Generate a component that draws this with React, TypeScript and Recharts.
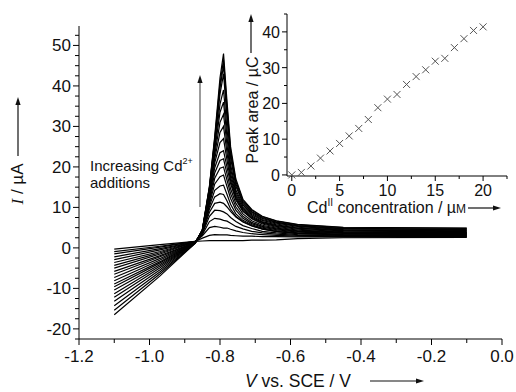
import { LineChart, Line, XAxis, YAxis, ScatterChart, Scatter } from "recharts";

// Cd2+ cyclic voltammograms (main) + peak area calibration (inset)

const VOLTAGES = [-1.1, -0.97, -0.87, -0.85, -0.83, -0.815, -0.8, -0.79, -0.78, -0.77, -0.755, -0.735, -0.71, -0.68, -0.64, -0.58, -0.45, -0.1];

// current (uA) at each voltage, one array per Cd addition
const CURRENT_00 = [-0.3, 0.8, 1.6, 1.7, 1.8, 1.8, 1.8, 1.8, 1.8, 1.8, 1.8, 1.8, 1.9, 1.9, 2.0, 2.3, 2.5, 2.6];
const CURRENT_01 = [-0.9, 0.4, 1.6, 2.4, 3.1, 3.3, 3.2, 3.2, 3.2, 3.1, 3.0, 2.9, 2.9, 2.8, 2.8, 2.7, 2.7, 2.7];
const CURRENT_02 = [-1.5, 0.2, 1.6, 3.0, 5.0, 5.3, 5.1, 4.9, 4.9, 4.6, 4.2, 3.8, 3.5, 3.3, 3.1, 2.9, 2.8, 2.8];
const CURRENT_03 = [-2.2, -0.2, 1.5, 3.3, 6.5, 7.3, 7.1, 6.8, 6.6, 6.1, 5.3, 4.7, 4.1, 3.7, 3.4, 3.1, 3.0, 2.9];
const CURRENT_04 = [-2.9, -0.5, 1.5, 3.5, 7.8, 9.3, 9.2, 8.9, 8.4, 7.5, 6.5, 5.5, 4.8, 4.1, 3.7, 3.3, 3.1, 3.0];
const CURRENT_05 = [-3.6, -0.9, 1.5, 3.7, 8.8, 11.0, 11.3, 11.0, 10.1, 9.0, 7.6, 6.4, 5.4, 4.6, 4.0, 3.5, 3.2, 3.1];
const CURRENT_06 = [-4.3, -1.2, 1.5, 3.8, 9.6, 12.6, 13.4, 13.2, 11.6, 9.6, 7.8, 6.5, 5.5, 4.7, 4.1, 3.6, 3.3, 3.2];
const CURRENT_07 = [-5.0, -1.5, 1.5, 3.9, 10.2, 14.2, 15.3, 15.5, 13.2, 10.8, 8.4, 6.8, 5.7, 4.9, 4.3, 3.7, 3.4, 3.3];
const CURRENT_08 = [-5.8, -1.9, 1.4, 4.0, 10.8, 15.8, 17.6, 18.0, 15.1, 12.2, 9.3, 7.3, 6.0, 5.1, 4.5, 3.9, 3.6, 3.4];
const CURRENT_09 = [-6.5, -2.2, 1.4, 4.0, 11.3, 17.2, 19.7, 20.0, 16.7, 13.4, 10.1, 7.8, 6.3, 5.3, 4.7, 4.1, 3.7, 3.5];
const CURRENT_10 = [-7.3, -2.6, 1.4, 4.1, 11.8, 18.5, 21.6, 22.0, 18.3, 14.6, 11.0, 8.4, 6.7, 5.6, 4.9, 4.2, 3.8, 3.6];
const CURRENT_11 = [-8.1, -3.0, 1.4, 4.1, 12.3, 19.8, 23.5, 24.0, 19.9, 15.9, 11.8, 9.0, 7.2, 5.9, 5.1, 4.4, 3.9, 3.7];
const CURRENT_12 = [-8.9, -3.4, 1.4, 4.2, 12.8, 21.0, 26.0, 27.0, 21.6, 16.6, 12.2, 9.2, 7.4, 6.1, 5.3, 4.6, 4.0, 3.8];
const CURRENT_13 = [-9.6, -3.7, 1.3, 4.2, 13.2, 22.0, 28.5, 30.0, 23.4, 17.4, 12.6, 9.5, 7.6, 6.3, 5.5, 4.8, 4.2, 3.9];
const CURRENT_14 = [-10.4, -4.1, 1.3, 4.3, 13.6, 23.0, 31.0, 33.0, 25.3, 18.4, 13.1, 9.8, 7.9, 6.5, 5.7, 4.9, 4.3, 4.0];
const CURRENT_15 = [-11.3, -4.5, 1.3, 4.3, 14.0, 24.0, 33.5, 36.0, 27.3, 19.5, 13.7, 10.2, 8.2, 6.8, 5.9, 5.1, 4.4, 4.2];
const CURRENT_16 = [-12.2, -4.9, 1.3, 4.4, 14.3, 25.0, 35.5, 39.0, 29.3, 20.6, 14.3, 10.6, 8.5, 7.0, 6.1, 5.3, 4.5, 4.3];
const CURRENT_17 = [-13.2, -5.4, 1.3, 4.4, 14.6, 25.8, 38.0, 43.0, 32.0, 22.2, 15.2, 11.0, 8.8, 7.3, 6.3, 5.4, 4.7, 4.5];
const CURRENT_18 = [-14.3, -5.9, 1.2, 4.5, 14.8, 26.5, 39.5, 45.0, 33.5, 23.2, 15.8, 11.3, 9.0, 7.5, 6.4, 5.5, 4.8, 4.6];
const CURRENT_19 = [-15.4, -6.4, 1.2, 4.5, 15.0, 27.0, 40.5, 46.5, 34.8, 24.1, 16.4, 11.7, 9.3, 7.7, 6.6, 5.7, 5.0, 4.8];
const CURRENT_20 = [-16.5, -6.9, 1.2, 4.5, 15.2, 27.5, 42.0, 48.0, 36.0, 25.0, 17.0, 12.0, 9.5, 7.8, 6.7, 5.8, 5.1, 4.9];

const CURVES = [
  CURRENT_00, CURRENT_01, CURRENT_02, CURRENT_03, CURRENT_04, CURRENT_05, CURRENT_06,
  CURRENT_07, CURRENT_08, CURRENT_09, CURRENT_10, CURRENT_11, CURRENT_12, CURRENT_13,
  CURRENT_14, CURRENT_15, CURRENT_16, CURRENT_17, CURRENT_18, CURRENT_19, CURRENT_20,
];

// inset: peak area vs Cd(II) concentration
const CONCENTRATIONS = [0, 1, 2, 3, 4, 5, 6, 7, 8, 9, 10, 11, 12, 13, 14, 15, 16, 17, 18, 19, 20];
const PEAK_AREAS = [0, 0.7, 2.5, 4.7, 6.7, 8.8, 10.9, 13.0, 15.5, 18.8, 21.2, 22.5, 25.3, 27.5, 29.4, 31.8, 32.6, 35.6, 38.1, 40.4, 41.4];

const MAIN_X_TICKS = [-1.2, -1.1, -1.0, -0.9, -0.8, -0.7, -0.6, -0.5, -0.4, -0.3, -0.2, -0.1, 0];
const MAIN_Y_TICKS = [-22.5, -20, -17.5, -15, -12.5, -10, -7.5, -5, -2.5, 0, 2.5, 5, 7.5, 10, 12.5, 15, 17.5, 20, 22.5, 25, 27.5, 30, 32.5, 35, 37.5, 40, 42.5, 45, 47.5, 50, 52.5];
const INSET_X_TICKS = [0, 2.5, 5, 7.5, 10, 12.5, 15, 17.5, 20, 22.5];
const INSET_Y_TICKS = [0, 5, 10, 15, 20, 25, 30, 35, 40, 45];

const FONT = '"Liberation Sans", Arial, sans-serif';
const INK = "#111";

const MAIN_LEFT = 79;
const MAIN_BOTTOM = 339;
const INSET_LEFT = 287;
const INSET_BOTTOM = 176;

const cvRows = VOLTAGES.map((v, k) => {
  const row: Record<string, number> = { v };
  CURVES.forEach((c, i) => { row["c" + i] = c[k]; });
  return row;
});

const insetRows = CONCENTRATIONS.map((x, i) => ({ x, y: PEAK_AREAS[i] }));

function MainXTick({ x, payload }: any) {
  const v = payload.value;
  const major = Math.round(v * 10) % 2 === 0;
  return (
    <g>
      <line x1={x} x2={x} y1={MAIN_BOTTOM} y2={MAIN_BOTTOM + (major ? 6 : 4)} stroke="#000" />
      {major && (
        <text x={x} y={MAIN_BOTTOM + 23} textAnchor="middle" fontSize={17} fontFamily={FONT} fill={INK}>
          {v.toFixed(1)}
        </text>
      )}
    </g>
  );
}

function MainYTick({ y, payload }: any) {
  const v = payload.value;
  const major = Math.abs(v % 10) < 1e-6;
  return (
    <g>
      <line x1={MAIN_LEFT - (major ? 6 : 4)} x2={MAIN_LEFT} y1={y} y2={y} stroke="#000" />
      {major && (
        <text x={MAIN_LEFT - 8} y={y + 6} textAnchor="end" fontSize={17} fontFamily={FONT} fill={INK}>
          {v}
        </text>
      )}
    </g>
  );
}

function InsetXTick({ x, payload }: any) {
  const v = payload.value;
  const major = v % 5 === 0;
  return (
    <g>
      <line x1={x} x2={x} y1={INSET_BOTTOM} y2={INSET_BOTTOM + (major ? 5 : 3)} stroke="#000" />
      {major && (
        <text x={x} y={INSET_BOTTOM + 20} textAnchor="middle" fontSize={16} fontFamily={FONT} fill={INK}>
          {v}
        </text>
      )}
    </g>
  );
}

function InsetYTick({ y, payload }: any) {
  const v = payload.value;
  const major = v % 10 === 0;
  return (
    <g>
      <line x1={INSET_LEFT - (major ? 5 : 3)} x2={INSET_LEFT} y1={y} y2={y} stroke="#000" />
      {major && (
        <text x={INSET_LEFT - 7} y={y + 6} textAnchor="end" fontSize={16} fontFamily={FONT} fill={INK}>
          {v}
        </text>
      )}
    </g>
  );
}

function Cross({ cx, cy }: any) {
  const s = 3.5;
  return (
    <path
      d={`M${cx - s},${cy - s}L${cx + s},${cy + s}M${cx - s},${cy + s}L${cx + s},${cy - s}`}
      stroke="#555"
      strokeWidth={1}
    />
  );
}

function Arrow({ x1, y1, x2, y2, color = INK, width = 1.2 }: any) {
  // straight line with filled head at (x2, y2)
  const ang = Math.atan2(y2 - y1, x2 - x1);
  const len = 8, half = 2.6;
  const bx = x2 - len * Math.cos(ang), by = y2 - len * Math.sin(ang);
  const px = -Math.sin(ang) * half, py = Math.cos(ang) * half;
  return (
    <g>
      <line x1={x1} y1={y1} x2={bx} y2={by} stroke={color} strokeWidth={width} />
      <polygon points={`${x2},${y2} ${bx + px},${by + py} ${bx - px},${by - py}`} fill={INK} />
    </g>
  );
}

export default function App() {
  return (
    <div style={{ position: "absolute", left: 0, top: 0, width: 516, height: 392, background: "#fff", overflow: "hidden" }}>
      <div style={{ position: "absolute", left: 0, top: 0 }}>
        <LineChart width={516} height={392} data={cvRows} margin={{ top: 26, right: 14, bottom: 23, left: 34 }}>
          <XAxis
            type="number"
            dataKey="v"
            domain={[-1.2, 0]}
            ticks={MAIN_X_TICKS}
            interval={0}
            tick={MainXTick}
            tickLine={false}
            axisLine={{ stroke: "#000" }}
            height={30}
          />
          <YAxis
            type="number"
            domain={[-22.5, 54.8]}
            ticks={MAIN_Y_TICKS}
            interval={0}
            tick={MainYTick}
            tickLine={false}
            axisLine={{ stroke: "#000" }}
            width={45}
          />
          {CURVES.map((_, i) => (
            <Line
              key={i}
              dataKey={"c" + i}
              type="linear"
              stroke="#000"
              strokeWidth={1.2}
              dot={false}
              isAnimationActive={false}
            />
          ))}
        </LineChart>
      </div>

      <div style={{ position: "absolute", left: 0, top: 0 }}>
        <ScatterChart width={516} height={392} margin={{ top: 14, right: 9, bottom: 191, left: 257 }}>
          <XAxis
            type="number"
            dataKey="x"
            domain={[-0.5, 22.5]}
            ticks={INSET_X_TICKS}
            interval={0}
            tick={InsetXTick}
            tickLine={false}
            axisLine={{ stroke: "#000" }}
            height={25}
          />
          <YAxis
            type="number"
            dataKey="y"
            domain={[-0.3, 45]}
            ticks={INSET_Y_TICKS}
            interval={0}
            tick={InsetYTick}
            tickLine={false}
            axisLine={{ stroke: "#000" }}
            width={30}
          />
          <Scatter data={insetRows} shape={Cross} isAnimationActive={false} />
        </ScatterChart>
      </div>

      <svg width={516} height={392} style={{ position: "absolute", left: 0, top: 0, pointerEvents: "none" }}>
        {/* main y label */}
        <text transform="translate(23,184) rotate(-90)" textAnchor="middle" fontSize={17} fontFamily={FONT} fill={INK}>
          <tspan fontFamily='"Liberation Serif", serif' fontStyle="italic">I</tspan> / µA
        </text>
        <Arrow x1={18} y1={156} x2={18} y2={97} />

        {/* main x label */}
        <text x={245} y={387} fontSize={17.5} fontFamily={FONT} fill={INK}>
          <tspan fontStyle="italic">V</tspan> vs. SCE / V
        </text>
        <Arrow x1={370} y1={381} x2={424} y2={381} />

        {/* annotation */}
        <text x={90} y={171} fontSize={15} fontFamily={FONT} fill={INK}>
          Increasing Cd<tspan fontSize={9} dy={-7}>2+</tspan>
        </text>
        <text x={90} y={188} fontSize={15} fontFamily={FONT} fill={INK}>additions</text>
        <Arrow x1={200} y1={207} x2={200} y2={75} color="#7a7a7a" width={1.5} />

        {/* inset labels */}
        <text transform="translate(258,110) rotate(-90)" textAnchor="middle" fontSize={16} fontFamily={FONT} fill={INK}>
          Peak area / µC
        </text>
        <Arrow x1={251} y1={53} x2={251} y2={14} />
        <text x={307} y={213} fontSize={16} fontFamily={FONT} fill={INK}>
          Cd<tspan fontSize={10} dy={-7}>II</tspan>
          <tspan dy={7}> concentration / µ</tspan>
          <tspan fontSize={12}>M</tspan>
        </text>
        <Arrow x1={468} y1={208} x2={501} y2={208} />
      </svg>
    </div>
  );
}
